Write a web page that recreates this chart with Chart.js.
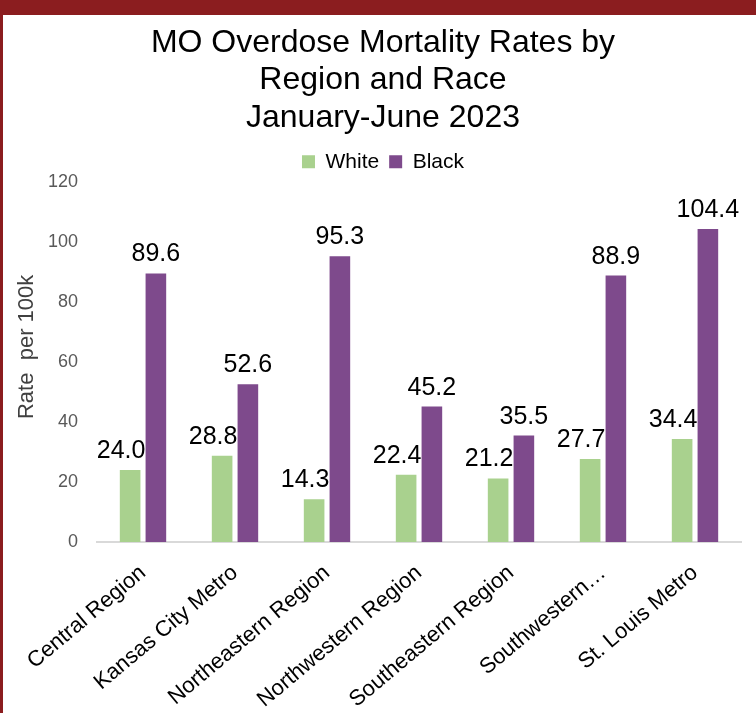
<!DOCTYPE html>
<html>
<head>
<meta charset="utf-8">
<script src="https://cdn.jsdelivr.net/npm/chart.js@4"></script>
<style>
    html, body { margin: 0; padding: 0; background: #fff; }
    #frame {
        width: 753px;
        height: 698px;
        border-top: 15px solid #8b1d1f;
        border-left: 3px solid #8b1d1f;
        position: relative;
    }
    #overdoseChart { display: block; }
</style>
</head>
<body>
<div id="frame">
    <canvas id="overdoseChart" width="753" height="698"></canvas>
</div>
<script>
// Chart data
const regions = ["Central Region", "Kansas City Metro", "Northeastern Region", "Northwestern Region", "Southeastern Region", "Southwestern Region", "St. Louis Metro"];
const tickLabels = ["Central Region", "Kansas City Metro", "Northeastern Region", "Northwestern Region", "Southeastern Region", "Southwestern…", "St. Louis Metro"];
const whiteRates = [24.0, 28.8, 14.3, 22.4, 21.2, 27.7, 34.4];
const blackRates = [89.6, 52.6, 95.3, 45.2, 35.5, 88.9, 104.4];
const yTicks = [0, 20, 40, 60, 80, 100, 120];

const fontName = "'Liberation Sans', Arial, sans-serif";

// Draws the value above every bar (white labels sit a bit to the left, like in Excel)
const valueLabels = {
    id: "valueLabels",
    afterDatasetsDraw(chart) {
        let ctx = chart.ctx;
        ctx.save();
        ctx.font = "25px " + fontName;
        ctx.fillStyle = "#000";
        ctx.textAlign = "center";
        ctx.textBaseline = "alphabetic";
        chart.data.datasets.forEach(function(ds, i) {
            let shift = i == 0 ? -9 : 0;
            chart.getDatasetMeta(i).data.forEach(function(bar, j) {
                ctx.fillText(ds.data[j].toFixed(1), bar.x + shift, bar.y - 12);
            });
        });
        ctx.restore();
    }
};

new Chart(document.getElementById("overdoseChart"), {
    type: "bar",
    data: {
        labels: regions,
        datasets: [
            {
                label: "White",
                data: whiteRates,
                backgroundColor: "#a9d18e",
                categoryPercentage: 0.56,
                barPercentage: 0.8
            },
            {
                label: "Black",
                data: blackRates,
                backgroundColor: "#7e4a8c",
                categoryPercentage: 0.56,
                barPercentage: 0.8
            }
        ]
    },
    options: {
        responsive: false,
        animation: false,
        layout: { padding: { left: 11, right: 4, top: 0, bottom: 0 } },
        plugins: {
            title: {
                display: true,
                text: ["MO Overdose Mortality Rates by", "Region and Race", "January-June 2023"],
                color: "#000",
                font: { family: fontName, size: 32, weight: "normal", lineHeight: 1.18 },
                padding: { top: 9, bottom: 4 }
            },
            legend: {
                display: true,
                labels: {
                    color: "#000",
                    font: { family: fontName, size: 21 },
                    boxWidth: 13,
                    boxHeight: 13,
                    padding: 10
                }
            },
            tooltip: { enabled: false }
        },
        scales: {
            x: {
                grid: { display: false, drawTicks: false },
                border: { color: "#d9d9d9", width: 2 },
                ticks: {
                    color: "#000",
                    font: { family: fontName, size: 22 },
                    maxRotation: 40,
                    minRotation: 40,
                    padding: 18,
                    callback: function(v, i) { return tickLabels[i]; }
                },
                afterFit: function(scale) { scale.height = 171; }
            },
            y: {
                min: 0,
                max: 120,
                grid: { display: false, drawTicks: false },
                border: { display: false },
                afterBuildTicks: function(scale) {
                    scale.ticks = yTicks.map(function(v) { return { value: v }; });
                },
                ticks: {
                    color: "#595959",
                    font: { family: fontName, size: 18 },
                    padding: 19
                },
                title: {
                    display: true,
                    // leading spaces push the text up a little, as in the reference
                    text: "     Rate  per 100k",
                    color: "#404040",
                    font: { family: fontName, size: 22 },
                    padding: { top: 0, bottom: 2 }
                },
                afterFit: function(scale) { scale.width = 83; }
            },
            // empty box on the right so the plot ends where the reference's does
            y2: {
                position: "right",
                display: true,
                grid: { display: false, drawTicks: false },
                border: { display: false },
                ticks: { display: false },
                afterFit: function(scale) { scale.width = 11; }
            }
        }
    },
    plugins: [valueLabels]
});
</script>
</body>
</html>
